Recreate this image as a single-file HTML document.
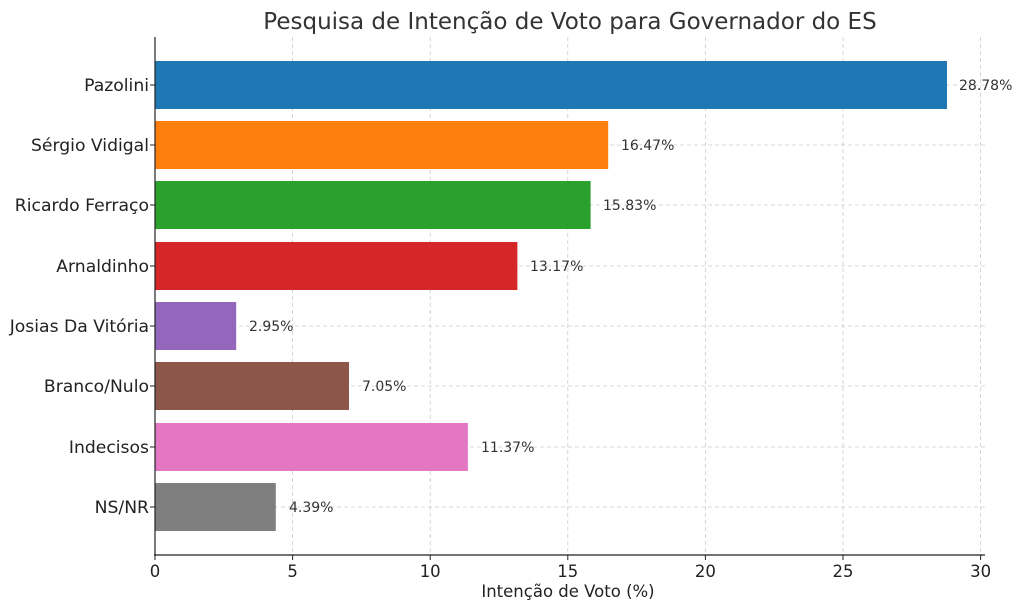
<!DOCTYPE html>
<html><head><meta charset="utf-8"><style>body{margin:0;background:#fff}svg{display:block}text{font-family:"DejaVu Sans","Liberation Sans",sans-serif}</style></head>
<body>
<svg width="1024" height="611" viewBox="0 0 1024 611" xmlns="http://www.w3.org/2000/svg">
<g stroke="#cccccc" stroke-width="0.8" stroke-dasharray="4,3">
<line x1="292.6" y1="37" x2="292.6" y2="555"/><line x1="430.2" y1="37" x2="430.2" y2="555"/>
<line x1="567.8" y1="37" x2="567.8" y2="555"/><line x1="705.4" y1="37" x2="705.4" y2="555"/>
<line x1="843" y1="37" x2="843" y2="555"/><line x1="980.6" y1="37" x2="980.6" y2="555"/>
<line x1="155" y1="85" x2="985" y2="85"/><line x1="155" y1="145" x2="985" y2="145"/>
<line x1="155" y1="205" x2="985" y2="205"/><line x1="155" y1="266" x2="985" y2="266"/>
<line x1="155" y1="326" x2="985" y2="326"/><line x1="155" y1="386" x2="985" y2="386"/>
<line x1="155" y1="447" x2="985" y2="447"/><line x1="155" y1="507" x2="985" y2="507"/>
</g>
<rect x="155" y="61" width="792" height="48" fill="#1f77b4"/>
<rect x="155" y="121" width="453.2" height="48" fill="#ff7f0e"/>
<rect x="155" y="181" width="435.6" height="48" fill="#2ca02c"/>
<rect x="155" y="242" width="362.4" height="48" fill="#d62728"/>
<rect x="155" y="302" width="81.2" height="48" fill="#9467bd"/>
<rect x="155" y="362" width="194" height="48" fill="#8c564b"/>
<rect x="155" y="423" width="312.9" height="48" fill="#e377c2"/>
<rect x="155" y="483" width="120.8" height="48" fill="#7f7f7f"/>
<g font-size="14" fill="#333">
<text x="959" y="90">28.78%</text><text x="621" y="150">16.47%</text>
<text x="603" y="210">15.83%</text><text x="530" y="271">13.17%</text>
<text x="249" y="331">2.95%</text><text x="362" y="391">7.05%</text>
<text x="481" y="452">11.37%</text><text x="289" y="512">4.39%</text>
</g>
<g font-size="17.2" fill="#222" text-anchor="end">
<text x="149" y="91">Pazolini</text><text x="149" y="151">Sérgio Vidigal</text>
<text x="149" y="211">Ricardo Ferraço</text><text x="149" y="272">Arnaldinho</text>
<text x="149" y="332">Josias Da Vitória</text><text x="149" y="392">Branco/Nulo</text>
<text x="149" y="453">Indecisos</text><text x="149" y="513">NS/NR</text>
</g>
<line x1="155" y1="37" x2="155" y2="556" stroke="#222" stroke-width="1.2"/>
<line x1="154" y1="555" x2="985" y2="555" stroke="#222" stroke-width="1.2"/>
<g stroke="#222"><line x1="155" y1="555" x2="155" y2="560"/><line x1="292.6" y1="555" x2="292.6" y2="560"/><line x1="430.2" y1="555" x2="430.2" y2="560"/><line x1="567.8" y1="555" x2="567.8" y2="560"/><line x1="705.4" y1="555" x2="705.4" y2="560"/><line x1="843" y1="555" x2="843" y2="560"/><line x1="980.6" y1="555" x2="980.6" y2="560"/>
<line x1="150" y1="85" x2="155" y2="85"/><line x1="150" y1="145" x2="155" y2="145"/><line x1="150" y1="205" x2="155" y2="205"/><line x1="150" y1="266" x2="155" y2="266"/><line x1="150" y1="326" x2="155" y2="326"/><line x1="150" y1="386" x2="155" y2="386"/><line x1="150" y1="447" x2="155" y2="447"/><line x1="150" y1="507" x2="155" y2="507"/></g>
<g font-size="16.5" fill="#222" text-anchor="middle">
<text x="155" y="577">0</text><text x="292.6" y="577">5</text><text x="430.2" y="577">10</text><text x="567.8" y="577">15</text><text x="705.4" y="577">20</text><text x="843" y="577">25</text><text x="980.6" y="577">30</text>
<text x="568" y="597">Intenção de Voto (%)</text>
<text x="570" y="29" font-size="23" fill="#333">Pesquisa de Intenção de Voto para Governador do ES</text>
</g>
</svg>
</body></html>
